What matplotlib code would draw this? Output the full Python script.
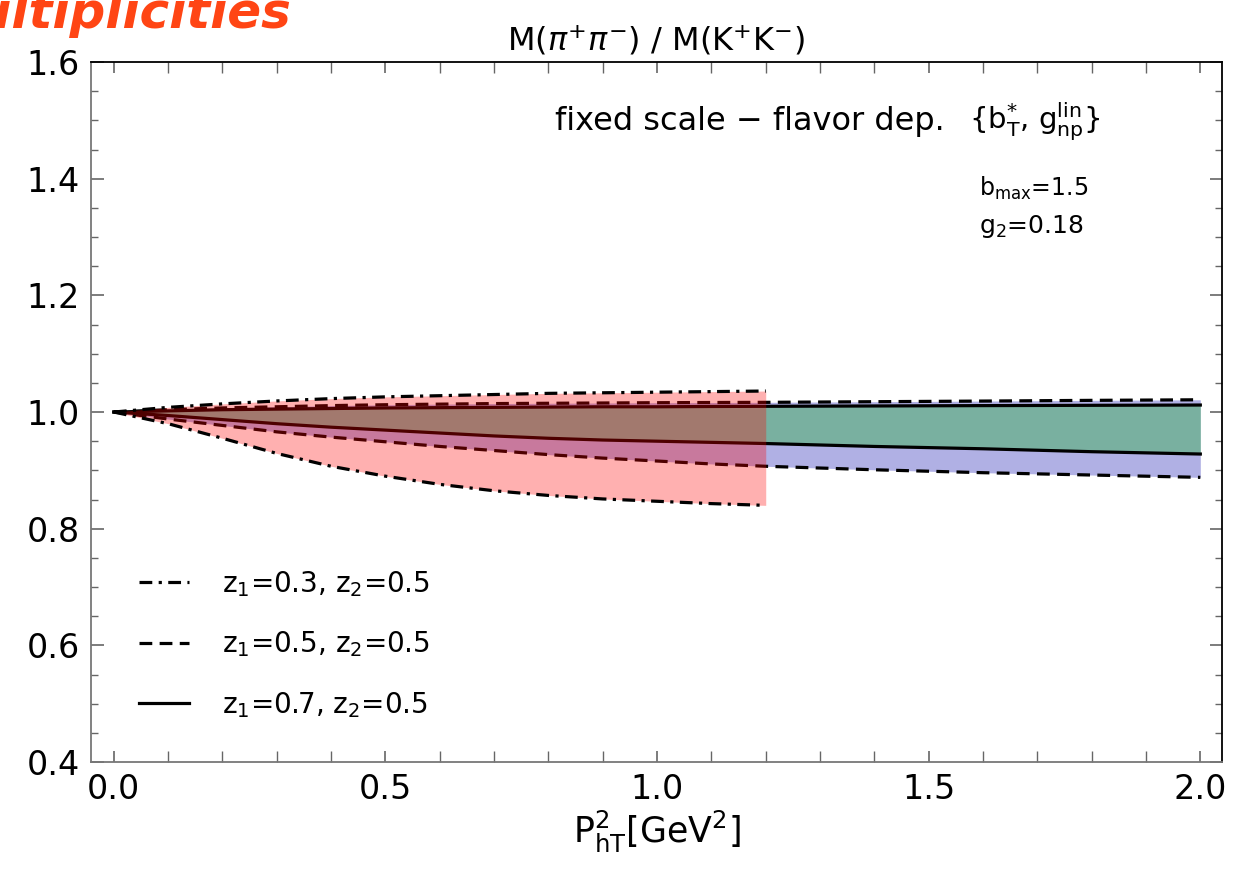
import matplotlib
matplotlib.use("Agg")
import matplotlib.pyplot as plt
from matplotlib.ticker import MultipleLocator, FormatStrFormatter

plt.rcParams['font.family'] = ['DejaVu Sans']
plt.rcParams['mathtext.fontset'] = 'dejavusans'

# P_hT^2 grid (GeV^2)
x_all = [0.0, 0.1, 0.2, 0.3, 0.4, 0.5, 0.6, 0.7, 0.8, 0.9, 1.0, 1.1, 1.2,
         1.4, 1.6, 1.8, 2.0]
x_dd = x_all[:13]  # z1=0.3 band stops at 1.2

# z1=0.3, z2=0.5 (dot-dashed)
dd_upper = [1.0, 1.008, 1.014, 1.019, 1.023, 1.026, 1.028, 1.030, 1.032,
            1.033, 1.034, 1.035, 1.036]
dd_lower = [1.0, 0.980, 0.955, 0.929, 0.907, 0.890, 0.876, 0.865, 0.857,
            0.851, 0.847, 0.843, 0.840]

# z1=0.5, z2=0.5 (dashed)
da_upper = [1.0, 1.004, 1.007, 1.009, 1.011, 1.0125, 1.0135, 1.0145, 1.015,
            1.0155, 1.016, 1.0163, 1.0166, 1.0177, 1.0188, 1.020, 1.021]
da_lower = [1.0, 0.988, 0.977, 0.966, 0.957, 0.949, 0.941, 0.934, 0.927,
            0.921, 0.916, 0.911, 0.907, 0.901, 0.896, 0.892, 0.888]

# z1=0.7, z2=0.5 (solid)
so_upper = [1.0, 1.002, 1.004, 1.005, 1.006, 1.007, 1.0075, 1.008, 1.0085,
            1.009, 1.009, 1.0095, 1.0098, 1.0104, 1.011, 1.0115, 1.012]
so_lower = [1.0, 0.994, 0.987, 0.980, 0.974, 0.969, 0.964, 0.959, 0.955,
            0.952, 0.950, 0.948, 0.946, 0.941, 0.937, 0.932, 0.928]

labels = ['z$_1$=0.3, z$_2$=0.5', 'z$_1$=0.5, z$_2$=0.5', 'z$_1$=0.7, z$_2$=0.5']

fig = plt.figure(figsize=(12.57, 8.76), dpi=100)
ax = fig.add_axes([0.0724, 0.1301, 0.8998, 0.7991])

lw = 2.3
# bands
ax.fill_between(x_all, da_lower, da_upper, color=(0, 0, 0.66), alpha=0.31, lw=0)
ax.fill_between(x_all, so_lower, so_upper, color=(0, 0.69, 0.04), alpha=0.31, lw=0)
l_da, = ax.plot(x_all, da_upper, color='black', lw=lw, dashes=(4, 2.3))
ax.plot(x_all, da_lower, color='black', lw=lw, dashes=(4, 2.3))
l_so, = ax.plot(x_all, so_upper, color='black', lw=lw)
ax.plot(x_all, so_lower, color='black', lw=lw)
ax.fill_between(x_dd, dd_lower, dd_upper, color='red', alpha=0.31, lw=0, zorder=3)
l_dd, = ax.plot(x_dd, dd_upper, color='black', lw=lw, dashes=(4, 2, 1, 2), zorder=4)
ax.plot(x_dd, dd_lower, color='black', lw=lw, dashes=(4, 2, 1, 2), zorder=4)

ax.set_xlim(-0.042, 2.04)
ax.set_ylim(0.4, 1.6)
ax.xaxis.set_major_locator(MultipleLocator(0.5))
ax.xaxis.set_minor_locator(MultipleLocator(0.1))
ax.yaxis.set_major_locator(MultipleLocator(0.2))
ax.yaxis.set_minor_locator(MultipleLocator(0.05))
ax.xaxis.set_major_formatter(FormatStrFormatter('%.1f'))
ax.yaxis.set_major_formatter(FormatStrFormatter('%.1f'))
ax.tick_params(which='both', direction='in', top=True, right=True,
               labelsize=24, color='#666666')
ax.tick_params(which='major', length=9, width=1.2, pad=8)
ax.tick_params(which='minor', length=5, width=1.0)
ax.tick_params(axis='x', which='both', length=8)
for side in ['left', 'bottom']:
    ax.spines[side].set_color('#777777')
for side in ['left', 'bottom', 'top', 'right']:
    ax.spines[side].set_linewidth(1.3)

ax.set_xlabel(r'P$_{\mathrm{hT}}^{2}$[GeV$^{2}$]', fontsize=25, labelpad=2)
ax.set_title(r'M($\pi^{+}\pi^{-}$) / M(K$^{+}$K$^{-}$)', fontsize=23, pad=8)

ax.text(0.41, 0.915, 'fixed scale \u2212 flavor dep.', transform=ax.transAxes,
        fontsize=23, va='center', ha='left')
ax.text(0.776, 0.915, r'{b$_{\mathrm{T}}^{*}$, g$_{\mathrm{np}}^{\mathrm{lin}}$}',
        transform=ax.transAxes, fontsize=21, va='center', ha='left')
ax.text(0.785, 0.82, r'b$_{\mathrm{max}}$=1.5', transform=ax.transAxes,
        fontsize=17, va='center', ha='left')
ax.text(0.785, 0.765, r'g$_2$=0.18', transform=ax.transAxes,
        fontsize=18, va='center', ha='left')

ax.legend([l_dd, l_da, l_so], labels, loc='lower left',
          bbox_to_anchor=(0.02, 0.025), frameon=False, fontsize=20,
          handlelength=1.8, handletextpad=1.2, labelspacing=1.1)

fig.text(0.232, 0.968, 'Multiplicities', color='#FF4514', fontsize=36,
         fontweight='bold', fontstyle='italic', ha='right', va='baseline')

fig.savefig('out.png', dpi=100)
